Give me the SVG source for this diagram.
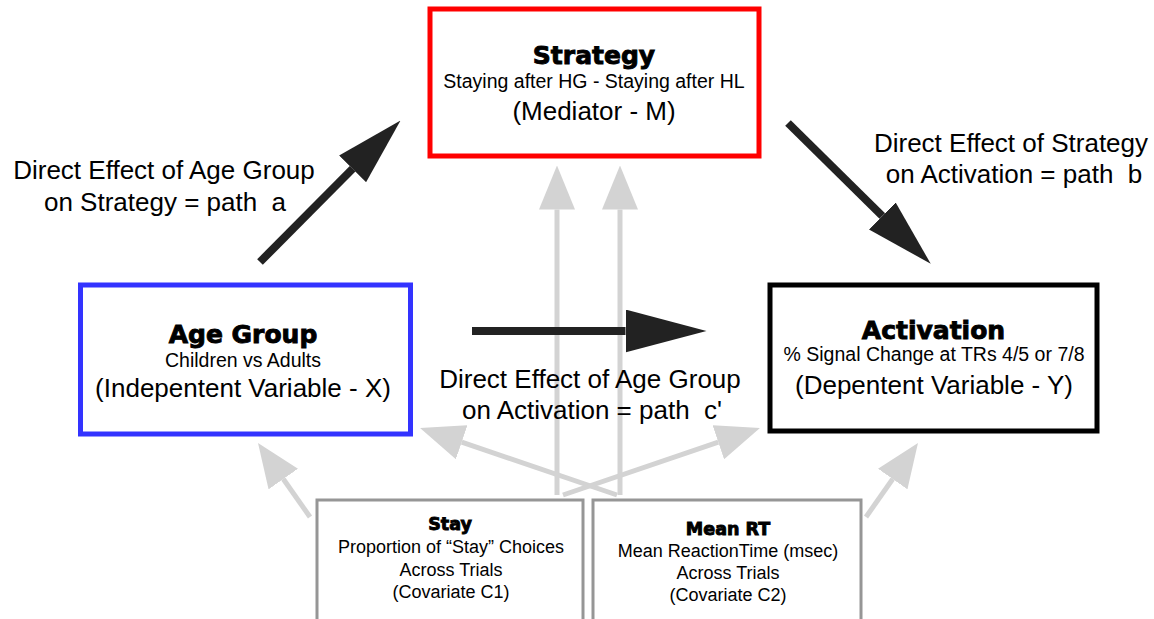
<svg xmlns="http://www.w3.org/2000/svg" width="1154" height="619" viewBox="0 0 1154 619">
<style>
.box{fill:#fff;stroke-width:5}
.cov{fill:#fff;stroke:#969696;stroke-width:3}
.t{font-family:"Liberation Sans",Arial,sans-serif;fill:#000;text-anchor:middle}
.h{font-family:"DejaVu Sans",sans-serif;font-weight:bold;fill:#000;stroke:#000;stroke-width:0.9;text-anchor:middle}
.big{font-size:26px}
.sm{font-size:19.5px}
.xs{font-size:18px}
.blk{stroke:#222;stroke-width:8;fill:none}
.gry{stroke:#d3d3d3;stroke-width:5;fill:none}
</style>
<defs>
<marker id="hb" markerUnits="userSpaceOnUse" markerWidth="68" markerHeight="38" refX="0" refY="19" orient="auto"><path d="M0,0 L68,19 L0,38 Z" fill="#222"/></marker>
<marker id="hc" markerUnits="userSpaceOnUse" markerWidth="81" markerHeight="43" refX="0" refY="21.5" orient="auto"><path d="M0,0 L81,21.5 L0,43 Z" fill="#222"/></marker>
<marker id="hg" markerUnits="userSpaceOnUse" markerWidth="44" markerHeight="36" refX="0" refY="18" orient="auto"><path d="M0,0 L44,18 L0,36 Z" fill="#d3d3d3"/></marker>
</defs>
<g id="connectors">
<line class="gry" x1="557" y1="495" x2="557" y2="209.5" marker-end="url(#hg)"/>
<line class="gry" x1="620" y1="495" x2="620" y2="209.5" marker-end="url(#hg)"/>
<line class="gry" x1="617" y1="495" x2="461.7" y2="442.2" marker-end="url(#hg)"/>
<line class="gry" x1="563" y1="495" x2="718.3" y2="442.2" marker-end="url(#hg)"/>
<line class="gry" x1="310" y1="517" x2="283.3" y2="479" marker-end="url(#hg)"/>
<line class="gry" x1="866" y1="517" x2="892.7" y2="479" marker-end="url(#hg)"/>
<line class="blk" x1="260" y1="262" x2="352.6" y2="168.8" marker-end="url(#hb)"/>
<line class="blk" x1="788" y1="123" x2="882.3" y2="216" marker-end="url(#hb)"/>
<line class="blk" x1="472" y1="331" x2="625.5" y2="331" marker-end="url(#hc)"/>
</g>
<g id="label-a">
<text class="t big" x="164" y="179">Direct Effect of Age Group</text>
<text class="t big" x="165" y="211" xml:space="preserve">on Strategy = path  a</text>
</g>
<g id="label-b">
<text class="t big" x="1011" y="152">Direct Effect of Strategy</text>
<text class="t big" x="1014" y="183" xml:space="preserve">on Activation = path  b</text>
</g>
<g id="label-c">
<text class="t big" x="590" y="388">Direct Effect of Age Group</text>
<text class="t big" x="592" y="419" xml:space="preserve">on Activation = path  c'</text>
</g>
<g id="strategy">
<rect class="box" x="430" y="9" width="329" height="147" stroke="#ff0000"/>
<text class="h" x="594" y="64" font-size="25">Strategy</text>
<text class="t sm" x="594" y="88">Staying after HG - Staying after HL</text>
<text class="t big" x="594" y="120">(Mediator - M)</text>
</g>
<g id="age-group">
<rect class="box" x="80.5" y="285" width="330" height="149" stroke="#3333ff"/>
<text class="h" x="243" y="343" font-size="25">Age Group</text>
<text class="t sm" x="243" y="367">Children vs Adults</text>
<text class="t big" x="243" y="397">(Indepentent Variable - X)</text>
</g>
<g id="activation">
<rect class="box" x="770" y="285" width="327" height="146" stroke="#000"/>
<text class="h" x="933.5" y="339" font-size="25">Activation</text>
<text class="t sm" x="934" y="361" font-size="19px">% Signal Change at TRs 4/5 or 7/8</text>
<text class="t big" x="934" y="394">(Depentent Variable - Y)</text>
</g>
<g id="stay">
<rect class="cov" x="317" y="500" width="266" height="140"/>
<text class="h" x="450" y="530" font-size="17.5" stroke-width="0.6">Stay</text>
<text class="t xs" x="451" y="553">Proportion of “Stay” Choices</text>
<text class="t xs" x="451" y="576">Across Trials</text>
<text class="t xs" x="451" y="598">(Covariate C1)</text>
</g>
<g id="mean-rt">
<rect class="cov" x="593" y="500" width="268" height="140"/>
<text class="h" x="728" y="535" font-size="17.5" stroke-width="0.6">Mean RT</text>
<text class="t xs" x="728" y="557">Mean ReactionTime (msec)</text>
<text class="t xs" x="728" y="579">Across Trials</text>
<text class="t xs" x="728" y="601">(Covariate C2)</text>
</g>
</svg>
